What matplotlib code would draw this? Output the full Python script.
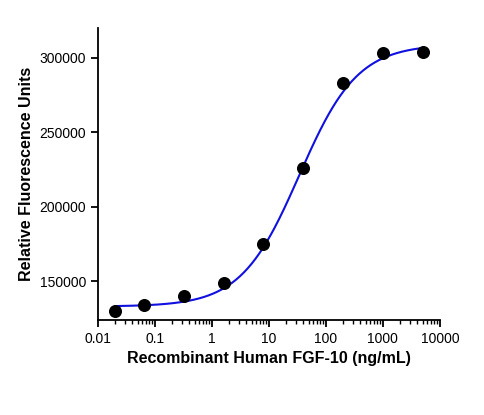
import numpy as np
import matplotlib
matplotlib.use("Agg")
import matplotlib.pyplot as plt

plt.rcParams['font.family'] = ['Liberation Sans', 'DejaVu Sans']

conc = [0.02, 0.064, 0.32, 1.6, 8, 40, 200, 1000, 5000]
rfu = [130000, 134000, 140000, 149000, 175000, 226000, 283000, 303000, 304000]
# 4PL fit parameters (estimated)
bottom, top, ec50, hill = 133000, 309000, 34.0, 0.85

fig = plt.figure(figsize=(4.85, 4.15), dpi=100)
ax = fig.add_axes([0.202, 0.229, 0.705, 0.704])
xs = np.logspace(np.log10(0.02), np.log10(5000), 400)
ys = bottom + (top - bottom) / (1 + (ec50 / xs) ** hill)
ax.plot(xs, ys, color='#1010e0', lw=1.5)
ax.scatter(conc, rfu, s=70, color='black', zorder=3)
ax.set_xscale('log')
ax.set_xlim(0.01, 10000)
ax.set_ylim(124000, 320000)
ax.set_xticks([0.01, 0.1, 1, 10, 100, 1000, 10000])
ax.set_xticklabels(['0.01', '0.1', '1', '10', '100', '1000', '10000'])
ax.set_yticks([150000, 200000, 250000, 300000])
ax.set_yticklabels(['150000', '200000', '250000', '300000'])
for s in ['top', 'right']:
    ax.spines[s].set_visible(False)
for s in ['left', 'bottom']:
    ax.spines[s].set_linewidth(1.3)
ax.tick_params(labelsize=10, width=1.3, length=5)
ax.tick_params(which='minor', width=1.0, length=3)
ax.set_xlabel('Recombinant Human FGF-10 (ng/mL)', fontsize=11.5, fontweight='bold')
ax.set_ylabel('Relative Fluorescence Units', fontsize=11.5, fontweight='bold')
fig.savefig('out.png', dpi=100)
